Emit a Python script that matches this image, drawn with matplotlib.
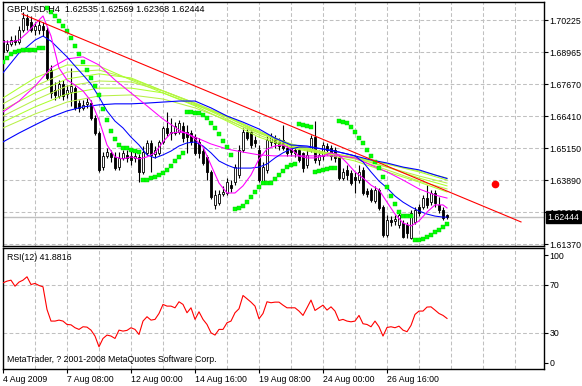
import matplotlib
matplotlib.use("Agg")
import matplotlib.pyplot as plt
from matplotlib.patches import Rectangle
from matplotlib.transforms import blended_transform_factory

plt.rcParams["font.family"] = ["Liberation Sans", "DejaVu Sans"]
FS = 6.3

# GBPUSD H4 candles, one per bar (bar 0 = 4 Aug 2009)
opens = [
    1.6941, 1.6902, 1.6926, 1.6941, 1.6934, 1.6981, 1.7028, 1.7012, 1.6981, 1.6981,
    1.6997, 1.6981, 1.6823, 1.6745, 1.6721, 1.6768, 1.6729, 1.6737, 1.6752, 1.6693,
    1.6674, 1.6690, 1.6693, 1.6634, 1.6575, 1.6441, 1.6485, 1.6497, 1.6481, 1.6441,
    1.6477, 1.6489, 1.6485, 1.6477, 1.6481, 1.6422, 1.6497, 1.6536, 1.6493, 1.6497,
    1.6540, 1.6595, 1.6575, 1.6575, 1.6579, 1.6603, 1.6579, 1.6575, 1.6559, 1.6540,
    1.6504, 1.6481, 1.6422, 1.6292, 1.6300, 1.6335, 1.6339, 1.6370, 1.6382, 1.6410,
    1.6508, 1.6579, 1.6579, 1.6548, 1.6508, 1.6382, 1.6430, 1.6540, 1.6555, 1.6540,
    1.6548, 1.6516, 1.6520, 1.6508, 1.6508, 1.6497, 1.6449, 1.6508, 1.6559, 1.6469,
    1.6485, 1.6524, 1.6516, 1.6508, 1.6481, 1.6398, 1.6430, 1.6418, 1.6402, 1.6390,
    1.6430, 1.6347, 1.6351, 1.6307, 1.6351, 1.6284, 1.6174, 1.6232, 1.6229, 1.6213,
    1.6221, 1.6213, 1.6162, 1.6225, 1.6284, 1.6284, 1.6319, 1.6303, 1.6339, 1.6292,
    1.6272, 1.62535,
]
highs = [
    1.6981, 1.6941, 1.6957, 1.6961, 1.6997, 1.7052, 1.7044, 1.7036, 1.7012, 1.7020,
    1.7012, 1.6993, 1.6843, 1.6776, 1.6784, 1.6784, 1.6764, 1.6831, 1.6760, 1.6705,
    1.6705, 1.6713, 1.6705, 1.6646, 1.6583, 1.6500, 1.6516, 1.6508, 1.6500, 1.6500,
    1.6508, 1.6508, 1.6508, 1.6500, 1.6493, 1.6524, 1.6548, 1.6548, 1.6524, 1.6548,
    1.6603, 1.6658, 1.6634, 1.6618, 1.6626, 1.6618, 1.6607, 1.6587, 1.6571, 1.6555,
    1.6516, 1.6489, 1.6430, 1.6351, 1.6351, 1.6367, 1.6398, 1.6390, 1.6453, 1.6528,
    1.6595, 1.6595, 1.6587, 1.6563, 1.6528, 1.6461, 1.6563, 1.6575, 1.6567, 1.6555,
    1.6607, 1.6528, 1.6532, 1.6520, 1.6520, 1.6500, 1.6508, 1.6567, 1.6622, 1.6508,
    1.6540, 1.6536, 1.6528, 1.6520, 1.6489, 1.6437, 1.6449, 1.6430, 1.6422, 1.6449,
    1.6441, 1.6359, 1.6359, 1.6367, 1.6359, 1.6292, 1.6252, 1.6248, 1.6252, 1.6264,
    1.6232, 1.6225, 1.6272, 1.6284, 1.6296, 1.6331, 1.6370, 1.6351, 1.6351, 1.6323,
    1.6284, 1.62569,
]
lows = [
    1.6882, 1.6894, 1.6918, 1.6922, 1.6926, 1.6973, 1.6981, 1.6973, 1.6961, 1.6965,
    1.6957, 1.6784, 1.6713, 1.6705, 1.6713, 1.6705, 1.6713, 1.6682, 1.6666, 1.6658,
    1.6666, 1.6674, 1.6626, 1.6567, 1.6422, 1.6430, 1.6477, 1.6461, 1.6430, 1.6430,
    1.6469, 1.6461, 1.6449, 1.6461, 1.6382, 1.6414, 1.6489, 1.6422, 1.6477, 1.6489,
    1.6532, 1.6563, 1.6548, 1.6567, 1.6571, 1.6540, 1.6497, 1.6528, 1.6489, 1.6477,
    1.6449, 1.6390, 1.6315, 1.6276, 1.6292, 1.6327, 1.6331, 1.6343, 1.6370, 1.6398,
    1.6500, 1.6548, 1.6516, 1.6520, 1.6382, 1.6374, 1.6418, 1.6524, 1.6516, 1.6508,
    1.6508, 1.6485, 1.6485, 1.6481, 1.6461, 1.6422, 1.6437, 1.6500, 1.6457, 1.6449,
    1.6469, 1.6489, 1.6469, 1.6461, 1.6390, 1.6390, 1.6390, 1.6370, 1.6339, 1.6378,
    1.6331, 1.6323, 1.6303, 1.6300, 1.6272, 1.6166, 1.6166, 1.6209, 1.6213, 1.6201,
    1.6162, 1.6162, 1.6158, 1.6217, 1.6248, 1.6276, 1.6280, 1.6292, 1.6284, 1.6260,
    1.6232, 1.62368,
]
closes = [
    1.6894, 1.6926, 1.6941, 1.6934, 1.6981, 1.7028, 1.7000, 1.6981, 1.6997, 1.7000,
    1.6981, 1.6792, 1.6733, 1.6725, 1.6768, 1.6721, 1.6745, 1.6760, 1.6674, 1.6674,
    1.6686, 1.6697, 1.6634, 1.6575, 1.6430, 1.6485, 1.6500, 1.6481, 1.6437, 1.6477,
    1.6497, 1.6477, 1.6469, 1.6485, 1.6422, 1.6500, 1.6536, 1.6489, 1.6508, 1.6540,
    1.6595, 1.6575, 1.6579, 1.6603, 1.6614, 1.6555, 1.6559, 1.6540, 1.6497, 1.6497,
    1.6457, 1.6422, 1.6323, 1.6331, 1.6335, 1.6343, 1.6382, 1.6359, 1.6441, 1.6508,
    1.6579, 1.6555, 1.6528, 1.6536, 1.6390, 1.6441, 1.6548, 1.6559, 1.6536, 1.6524,
    1.6516, 1.6497, 1.6500, 1.6497, 1.6469, 1.6437, 1.6489, 1.6555, 1.6469, 1.6489,
    1.6528, 1.6508, 1.6485, 1.6477, 1.6398, 1.6422, 1.6410, 1.6378, 1.6390, 1.6422,
    1.6339, 1.6335, 1.6311, 1.6351, 1.6280, 1.6174, 1.6232, 1.6225, 1.6236, 1.6252,
    1.6166, 1.6181, 1.6260, 1.6272, 1.6260, 1.6319, 1.6292, 1.6339, 1.6300, 1.6272,
    1.6240, 1.62444,
]

# Parabolic SAR, one dot per bar
sar = [
    1.6855, 1.6871, 1.6886, 1.6894, 1.6898, 1.6902, 1.6902, 1.6902, 1.6902, 1.6910,
    1.6910, 1.7067, 1.7052, 1.7036, 1.7016, 1.6997, 1.6977, 1.6949, 1.6918, 1.6886,
    1.6855, 1.6823, 1.6792, 1.6760, 1.6725, 1.6670, 1.6626, 1.6583, 1.6552, 1.6528,
    1.6516, 1.6516, 1.6508, 1.6504, 1.6500, 1.6390, 1.6390, 1.6398, 1.6402, 1.6410,
    1.6418, 1.6430, 1.6445, 1.6465, 1.6481, 1.6497, 1.6658, 1.6658, 1.6654, 1.6654,
    1.6646, 1.6634, 1.6614, 1.6595, 1.6571, 1.6544, 1.6520, 1.6489, 1.6276, 1.6280,
    1.6288, 1.6303, 1.6323, 1.6343, 1.6363, 1.6378, 1.6378, 1.6378, 1.6394, 1.6410,
    1.6426, 1.6441, 1.6449, 1.6453, 1.6611, 1.6607, 1.6603, 1.6599, 1.6422, 1.6426,
    1.6430, 1.6433, 1.6437, 1.6437, 1.6622, 1.6618, 1.6614, 1.6599, 1.6579, 1.6555,
    1.6536, 1.6508, 1.6485, 1.6461, 1.6437, 1.6402, 1.6363, 1.6327, 1.6296, 1.6264,
    1.6248, 1.6248, 1.6248, 1.6154, 1.6154, 1.6158, 1.6166, 1.6174, 1.6185, 1.6193,
    1.6205, 1.6217,
]

# moving averages, read every 2 bars (fast) or 4 bars (slow), last point = bar 111
blue_fast = [
    1.6812, 1.6851, 1.6890, 1.6914, 1.6941, 1.6957, 1.6937, 1.6906, 1.6875, 1.6839,
    1.6804, 1.6768, 1.6717, 1.6662, 1.6622, 1.6595, 1.6559, 1.6528, 1.6489, 1.6477,
    1.6489, 1.6504, 1.6524, 1.6536, 1.6540, 1.6524, 1.6497, 1.6465, 1.6449, 1.6437,
    1.6437, 1.6437, 1.6441, 1.6453, 1.6477, 1.6497, 1.6512, 1.6520, 1.6520, 1.6516,
    1.6512, 1.6508, 1.6500, 1.6493, 1.6485, 1.6461, 1.6422, 1.6386, 1.6359, 1.6327,
    1.6303, 1.6284, 1.6268, 1.6256, 1.6248, 1.6244, 1.6244,
]
magenta_fast = [
    1.6934, 1.6934, 1.6941, 1.6969, 1.7004, 1.7036, 1.6957, 1.6831, 1.6784, 1.6764,
    1.6741, 1.6701, 1.6626, 1.6528, 1.6481, 1.6473, 1.6481, 1.6473, 1.6481, 1.6497,
    1.6540, 1.6575, 1.6579, 1.6575, 1.6552, 1.6520, 1.6449, 1.6378, 1.6339, 1.6339,
    1.6367, 1.6410, 1.6473, 1.6512, 1.6524, 1.6528, 1.6512, 1.6485, 1.6477, 1.6477,
    1.6485, 1.6497, 1.6489, 1.6457, 1.6422, 1.6398, 1.6370, 1.6351, 1.6303, 1.6256,
    1.6221, 1.6209, 1.6229, 1.6264, 1.6292, 1.6292, 1.6280,
]
blue_slow = [
    1.6540, 1.6575, 1.6607, 1.6638, 1.6662, 1.6678, 1.6686, 1.6690, 1.6690, 1.6693,
    1.6697, 1.6701, 1.6701, 1.6674, 1.6642, 1.6618, 1.6591, 1.6555, 1.6528, 1.6524,
    1.6512, 1.6500, 1.6485, 1.6469, 1.6457, 1.6441, 1.6430, 1.6410, 1.6396,
]
magenta_slow = [
    1.6658, 1.6701, 1.6760, 1.6831, 1.6867, 1.6875, 1.6843, 1.6784, 1.6733, 1.6682,
    1.6630, 1.6587, 1.6559, 1.6532, 1.6512, 1.6500, 1.6489, 1.6485, 1.6485, 1.6485,
    1.6485, 1.6485, 1.6477, 1.6449, 1.6422, 1.6390, 1.6355, 1.6331, 1.6319,
]
# yellow-green MA fan, read every 8 bars, last point = bar 111
fan = [
    [1.6713, 1.6792, 1.6843, 1.6839, 1.6784, 1.6733, 1.6682, 1.6622, 1.6559, 1.6516, 1.6493, 1.6465, 1.6422, 1.6382, 1.6343],
    [1.6690, 1.6760, 1.6815, 1.6823, 1.6788, 1.6741, 1.6690, 1.6630, 1.6567, 1.6520, 1.6497, 1.6473, 1.6430, 1.6386, 1.6355],
    [1.6666, 1.6733, 1.6788, 1.6808, 1.6792, 1.6741, 1.6693, 1.6638, 1.6575, 1.6524, 1.6497, 1.6477, 1.6441, 1.6398, 1.6367],
    [1.6642, 1.6705, 1.6760, 1.6780, 1.6776, 1.6741, 1.6693, 1.6642, 1.6583, 1.6528, 1.6497, 1.6477, 1.6441, 1.6406, 1.6378],
    [1.6618, 1.6678, 1.6729, 1.6752, 1.6752, 1.6733, 1.6686, 1.6638, 1.6579, 1.6532, 1.6500, 1.6477, 1.6453, 1.6422, 1.6390],
    [1.6595, 1.6650, 1.6697, 1.6721, 1.6725, 1.6709, 1.6674, 1.6626, 1.6575, 1.6532, 1.6500, 1.6481, 1.6453, 1.6426, 1.6398],
]

# RSI(12), one value per bar
rsi = [
    71.4, 72.8, 73.6, 68.6, 72.0, 73.6, 76.4, 70.0, 70.9, 69.2,
    68.1, 49.3, 39.7, 39.7, 40.5, 39.7, 36.9, 36.6, 34.2, 32.8,
    35.0, 34.7, 32.2, 27.3, 18.4, 25.3, 28.1, 27.3, 25.3, 32.2,
    31.4, 32.0, 34.2, 32.8, 28.6, 39.7, 43.3, 40.5, 41.1, 46.0,
    53.5, 52.1, 52.1, 50.7, 55.7, 53.5, 46.6, 50.7, 41.1, 47.4,
    41.1, 36.9, 30.0, 28.1, 32.8, 32.8, 38.3, 39.7, 46.6, 49.9,
    60.9, 58.2, 55.4, 52.1, 41.6, 46.0, 55.7, 54.9, 55.4, 55.4,
    52.9, 50.7, 50.7, 50.7, 48.0, 44.4, 50.7, 57.1, 48.5, 50.7,
    52.9, 48.8, 51.5, 48.0, 40.2, 41.1, 39.7, 39.1, 39.7, 44.4,
    37.5, 36.9, 35.0, 39.7, 35.0, 27.3, 34.4, 35.0, 34.2, 35.5,
    32.2, 30.9, 36.1, 45.2, 48.0, 48.0, 51.3, 51.5, 48.8, 46.0,
    44.4, 41.9,
]

trend_x = [4.75, 129.5]
trend_y = [1.7044, 1.6225]
signal_x, signal_y = 123, 1.6373
bid = 1.62444

price_labels = ["1.70225", "1.68965", "1.67670", "1.66410", "1.65150", "1.63890", "1.62630", "1.61370"]
time_labels = ["4 Aug 2009", "7 Aug 08:00", "12 Aug 00:00", "14 Aug 16:00",
               "19 Aug 08:00", "24 Aug 00:00", "26 Aug 16:00"]

n = len(closes)
idx2 = list(range(0, n - 1, 2)) + [n - 1]
idx4 = list(range(0, n - 1, 4)) + [n - 1]
idx8 = list(range(0, n - 1, 8)) + [n - 1]

W, H = 582, 386
fig = plt.figure(figsize=(W / 100, H / 100), dpi=100)
fig.patch.set_facecolor("white")


def px_axes(left, top, right, bottom):
    return fig.add_axes([left / W, 1 - bottom / H, (right - left) / W, (bottom - top) / H])


ax = px_axes(3, 2, 543.5, 245.5)
ar = px_axes(3, 248.3, 543.5, 369)

grid_kw = dict(color="#C0C0C0", lw=0.75, ls=(0, (3.6, 2.2)), zorder=1)
xmax = 135.125
for a in (ax, ar):
    a.set_xlim(0, xmax)
    for k in range(8, 136, 8):
        a.axvline(k, **grid_kw)
    for s in a.spines.values():
        s.set_color("black")
        s.set_linewidth(1.0)
    a.yaxis.tick_right()
    a.tick_params(axis="y", direction="out", length=3, width=0.8, labelsize=FS, pad=1.5,
                  colors="black")

# price panel
ax.set_ylim(1.61322, 1.7091)
price_ticks = [1.6137 + 0.0126 * k for k in range(len(price_labels))][::-1]
ax.set_yticks(price_ticks, price_labels)
for p in price_ticks:
    ax.axhline(p, **grid_kw)
ax.set_xticks([])
ax.axhline(bid, color="#C0C0C0", lw=1.0, zorder=2)

for i, (o, h, l, c) in enumerate(zip(opens, highs, lows, closes)):
    ax.vlines(i, l, h, color="black", lw=0.8, zorder=3)
    lo, hgt = min(o, c), abs(c - o)
    face = "white" if c > o else "black"
    if hgt < 0.00006:
        ax.hlines(o, i - 0.4, i + 0.4, color="black", lw=0.9, zorder=4)
    else:
        ax.add_patch(Rectangle((i - 0.36, lo), 0.72, hgt, facecolor=face,
                               edgecolor="black", lw=0.6, zorder=4))

for k, line in enumerate(fan):
    ax.plot(idx8, line, color="#ADFF2F" if k % 2 == 0 else "#B8F048", lw=0.75, zorder=5)
ax.plot(idx4, blue_slow, color="#0000FF", lw=0.8, zorder=5)
ax.plot(idx4, magenta_slow, color="#FF00FF", lw=0.75, zorder=5)
ax.plot(idx2, blue_fast, color="#0000FF", lw=0.75, zorder=5)
ax.plot(idx2, magenta_fast, color="#FF00FF", lw=0.8, zorder=5)
ax.plot(range(n), sar, ls="none", marker="s", ms=2.7, mfc="#00FF00", mec="#00D000",
        mew=0.3, zorder=6)
ax.plot(trend_x, trend_y, color="#FF0000", lw=0.8, zorder=6)
ax.plot([signal_x], [signal_y], marker="o", ms=4.5, color="#FF0000", mec="#FF0000", zorder=6)

ax.text(0.0075, 0.988, "GBPUSD,H4  1.62535 1.62569 1.62368 1.62444", transform=ax.transAxes,
        va="top", ha="left", fontsize=6.6, zorder=8)
btr = blended_transform_factory(ax.transAxes, ax.transData)
ax.text(1.0075, bid, "1.62444", transform=btr, va="center", ha="left", fontsize=FS,
        color="white", zorder=10, clip_on=False,
        bbox=dict(boxstyle="square,pad=0.2", fc="black", ec="black"))

# RSI panel
ar.set_ylim(0, 100)
ar.plot(range(n), rsi, color="#FF0000", lw=0.8, zorder=5)
for lvl in (70, 30):
    ar.axhline(lvl, **grid_kw)
ar.set_yticks([94.4, 70, 30, 5.2], ["100", "70", "30", "0"])
ar.set_xticks(range(0, 16 * len(time_labels), 16), time_labels)
ar.tick_params(axis="x", direction="out", length=3, width=0.8, labelsize=FS, pad=1)
for t in ar.get_xticklabels():
    t.set_ha("left")
ar.text(0.0075, 0.92, "RSI(12) 41.8816", transform=ar.transAxes, va="center", ha="left",
        fontsize=FS)
ar.text(0.0075, 0.075, "MetaTrader, ? 2001-2008 MetaQuotes Software Corp.",
        transform=ar.transAxes, va="center", ha="left", fontsize=FS)

fig.savefig("out.png", dpi=100, facecolor="white")
